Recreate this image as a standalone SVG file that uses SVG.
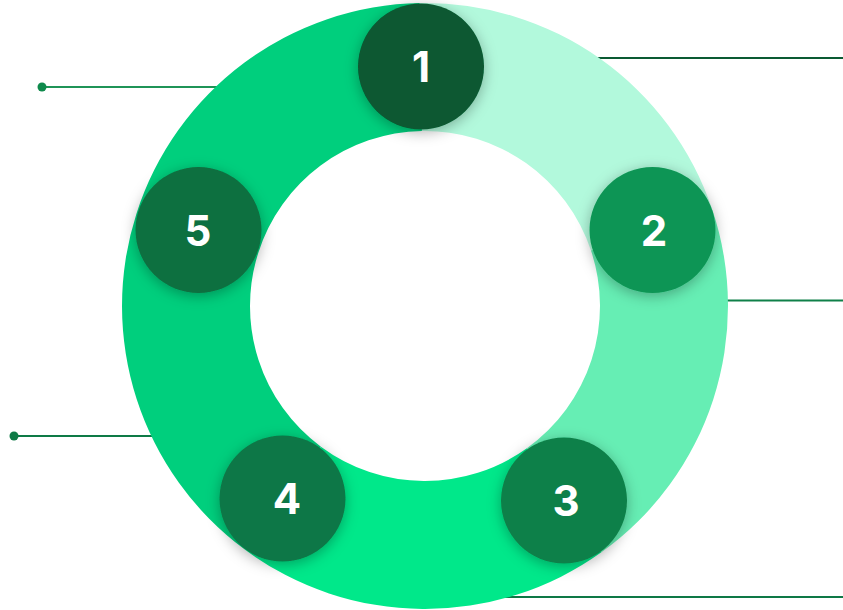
<svg xmlns="http://www.w3.org/2000/svg" width="843" height="610" viewBox="0 0 843 610">
  <defs>
    <filter id="shadow" x="-40%" y="-40%" width="180%" height="180%">
      <feDropShadow dx="0" dy="3" stdDeviation="7" flood-color="#000000" flood-opacity="0.3"/>
    </filter>
    <style>
      .lbl { font-family: Inter, Roboto, "Liberation Sans", sans-serif; font-weight: 700; font-size: 42px; fill: #ffffff; text-anchor: middle; }
      .ln { stroke-width: 2.2; fill: none; }
    </style>
  </defs>
  <rect width="843" height="610" fill="#ffffff"/>

  <g id="connectors">
    <line class="ln" x1="42" y1="87" x2="300" y2="87" stroke="#1f9457"/>
    <circle cx="42" cy="87" r="4.5" fill="#0f8a4c"/>
    <line class="ln" x1="14" y1="436" x2="250" y2="436" stroke="#0e7a46"/>
    <circle cx="14" cy="436" r="4.5" fill="#0e7a46"/>
    <line class="ln" x1="520" y1="58" x2="843" y2="58" stroke="#0a5a32"/>
    <line class="ln" x1="650" y1="300.5" x2="843" y2="300.5" stroke="#0f8049"/>
    <line class="ln" x1="420" y1="597" x2="843" y2="597" stroke="#0e7846"/>
  </g>

  <g id="ring">
    <path d="M244.77,549.57 A303,303 0 0 1 419.7,3.05 L421.95,131.03 A175,175 0 0 0 320.91,446.68 Z" fill="#00cf7d"/>
    <path d="M419.7,3.05 A303,303 0 0 1 712.34,209.86 L590.96,250.47 A175,175 0 0 0 421.95,131.03 Z" fill="#b2f9dc"/>
    <path d="M712.34,209.86 A303,303 0 0 1 601.38,552.36 L526.87,448.29 A175,175 0 0 0 590.96,250.47 Z" fill="#66eeb4"/>
    <path d="M601.38,552.36 A303,303 0 0 1 244.77,549.57 L320.91,446.68 A175,175 0 0 0 526.87,448.29 Z" fill="#00e88a"/>
  </g>

  <g id="node1">
    <circle cx="421" cy="66.5" r="63" fill="#085830" filter="url(#shadow)"/>
    <text class="lbl" x="421" y="82">1</text>
  </g>
  <g id="node2">
    <circle cx="652.5" cy="230" r="63" fill="#109555" filter="url(#shadow)"/>
    <text class="lbl" x="654" y="246">2</text>
  </g>
  <g id="node3">
    <circle cx="564" cy="500.5" r="63" fill="#0e8049" filter="url(#shadow)"/>
    <text class="lbl" x="566" y="516">3</text>
  </g>
  <g id="node4">
    <circle cx="282.5" cy="498.5" r="63" fill="#0e7746" filter="url(#shadow)"/>
    <text class="lbl" x="287" y="514">4</text>
  </g>
  <g id="node5">
    <circle cx="198.5" cy="230" r="63" fill="#0d6f40" filter="url(#shadow)"/>
    <text class="lbl" x="198" y="246">5</text>
  </g>
</svg>
